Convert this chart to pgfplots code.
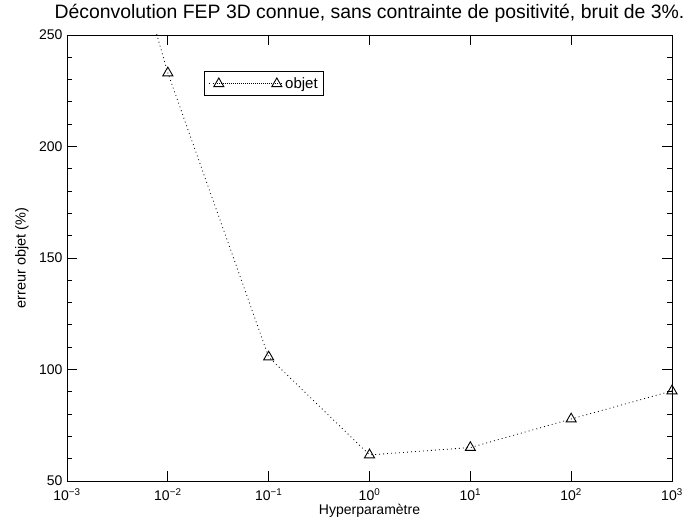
\documentclass[border=0pt]{standalone}
\usepackage{fontspec}
\setmainfont{Liberation Sans}
\usepackage{pgfplots}
\pgfplotsset{compat=1.18}
\begin{document}
\begin{tikzpicture}
\useasboundingbox (-67pt,-44pt) rectangle (619pt,481pt);
\begin{axis}[
  scale only axis,
  width=605pt, height=446pt,
  xmode=log,
  xmin=1e-3, xmax=1e3,
  ymin=50, ymax=250,
  xtick={1e-3,1e-2,1e-1,1,10,100,1000},
  xticklabels={10\textsuperscript{−3},10\textsuperscript{−2},10\textsuperscript{−1},10\textsuperscript{0},10\textsuperscript{1},10\textsuperscript{2},10\textsuperscript{3}},
  xminorticks=false,
  ytick={50,100,150,200,250},
  minor y tick num=4,
  /pgf/number format/assume math mode=true,
  major tick length=10pt,
  minor tick length=5pt,
  tick align=inside,
  axis line style={line width=0.9pt},
  every tick/.style={line width=0.9pt, black},
  ticklabel style={font=\fontsize{14}{16}\selectfont},
  xticklabel style={anchor=base, yshift=-20pt},
  yticklabel style={anchor=east, xshift=-1pt},
  title={Déconvolution FEP 3D connue, sans contrainte de positivité, bruit de 3\%.},
  title style={at={(axis description cs:0.5,1)}, anchor=base, yshift=10pt, font=\fontsize{19.4}{22}\selectfont},
  xlabel={Hyperparamètre},
  every axis x label/.style={at={(axis description cs:0.5,0)}, anchor=base, yshift=-34pt, font=\fontsize{14}{16}\selectfont},
  ylabel={erreur objet (\%)},
  every axis y label/.style={at={(axis description cs:-0.0744,0.5)}, anchor=center, rotate=90, font=\fontsize{14.5}{16}\selectfont},
  legend style={at={(axis description cs:0.2264,0.919)}, anchor=north west, draw=black, line width=0.9pt, inner xsep=4pt, inner ysep=4pt, font=\fontsize{15}{17}\selectfont},
  legend image code/.code={\path (-10pt,0pt) -- (64pt,0pt); \draw[mark repeat=1,#1] plot coordinates {(0pt,0pt) (58pt,0pt)};},
]
\addplot[black, line width=0.8pt, dash pattern=on 0.9pt off 3.1pt, mark=triangle, mark size=5.8pt, mark options={solid, line width=0.9pt}]
  coordinates {
  (0.001,390) (0.01,233) (0.1,105.6) (1,61.7) (10,65) (100,77.8) (1000,90.4)
  };
\addlegendentry{objet}
\end{axis}
\end{tikzpicture}
\end{document}
